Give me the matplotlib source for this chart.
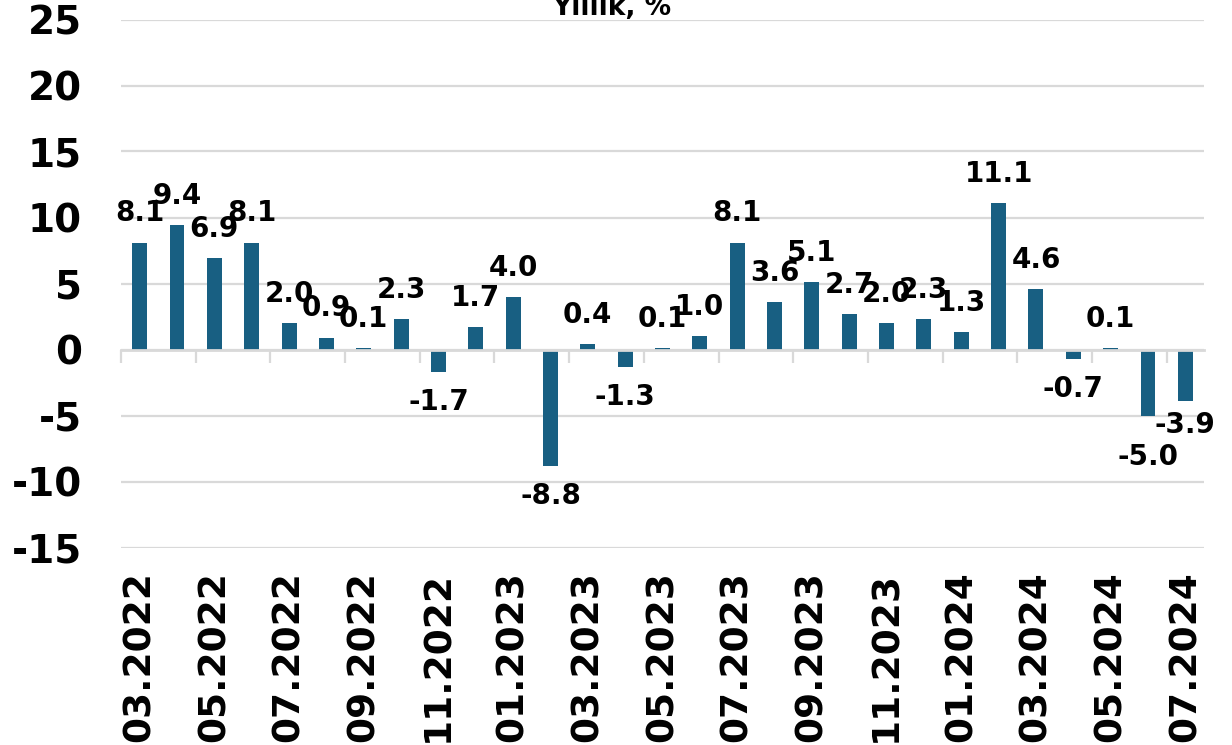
import matplotlib
matplotlib.use("Agg")
import matplotlib.pyplot as plt
import numpy as np

months = ["03.2022", "04.2022", "05.2022", "06.2022", "07.2022", "08.2022",
          "09.2022", "10.2022", "11.2022", "12.2022", "01.2023", "02.2023",
          "03.2023", "04.2023", "05.2023", "06.2023", "07.2023", "08.2023",
          "09.2023", "10.2023", "11.2023", "12.2023", "01.2024", "02.2024",
          "03.2024", "04.2024", "05.2024", "06.2024", "07.2024"]
values = [8.1, 9.4, 6.9, 8.1, 2.0, 0.9, 0.1, 2.3, -1.7, 1.7, 4.0, -8.8,
          0.4, -1.3, 0.1, 1.0, 8.1, 3.6, 5.1, 2.7, 2.0, 2.3, 1.3, 11.1,
          4.6, -0.7, 0.1, -5.0, -3.9]
y_ticks = [25, 20, 15, 10, 5, 0, -5, -10, -15]
title = "Yıllık, %"

BAR = "#185F82"
GRID = "#d9d9d9"

fig = plt.figure(figsize=(12.32, 7.45), dpi=100)
ax = fig.add_axes([121 / 1232, 1 - 547.5 / 745, (1204 - 121) / 1232, (547.5 - 19.5) / 745])

x = np.arange(len(values))
ax.bar(x, values, width=0.4, color=BAR, zorder=2)

ax.set_xlim(-0.5, len(values) - 0.5)
ax.set_ylim(min(y_ticks), max(y_ticks))
ax.set_yticks(y_ticks)
ax.set_yticklabels([str(v) for v in y_ticks], fontfamily="DejaVu Sans",
                   fontweight="bold", fontsize=28)
ax.tick_params(axis="y", length=0, pad=28)
ax.yaxis.grid(True, color=GRID, lw=1.6, zorder=0)
ax.set_axisbelow(True)

for s in ["top", "right", "left"]:
    ax.spines[s].set_visible(False)
ax.spines["bottom"].set_position(("data", 0))
ax.spines["bottom"].set_color(GRID)
ax.spines["bottom"].set_linewidth(2)
ax.spines["bottom"].set_zorder(3)

# tick marks on zero line at every other category boundary
ax.set_xticks(np.arange(-0.5, len(values) - 1, 2))
ax.tick_params(axis="x", direction="out", length=9.5, width=1.6, color=GRID,
               labelbottom=False)

# category labels at the bottom
sec = ax.secondary_xaxis("bottom")
sec.set_xticks(x[::2])
sec.set_xticklabels(months[::2], rotation=90, fontfamily="DejaVu Sans",
                    fontweight="bold", fontsize=27)
sec.tick_params(length=0, pad=17)
sec.spines["bottom"].set_visible(False)

# value labels
special = {27: -30, 28: -17}
for i, v in enumerate(values):
    off = 21 if v >= 0 else -22
    off = special.get(i, off)
    ax.annotate(f"{v:.1f}", (i, v), xytext=(0, off), textcoords="offset points",
                ha="center", va="center", fontsize=20, fontweight="bold",
                fontfamily="DejaVu Sans", color="black", zorder=4)

fig.text(612 / 1232, 1 - 15 / 745, title, ha="center", va="baseline",
         fontsize=19, fontweight="bold", fontfamily="DejaVu Sans")

fig.savefig("out.png", dpi=100)
